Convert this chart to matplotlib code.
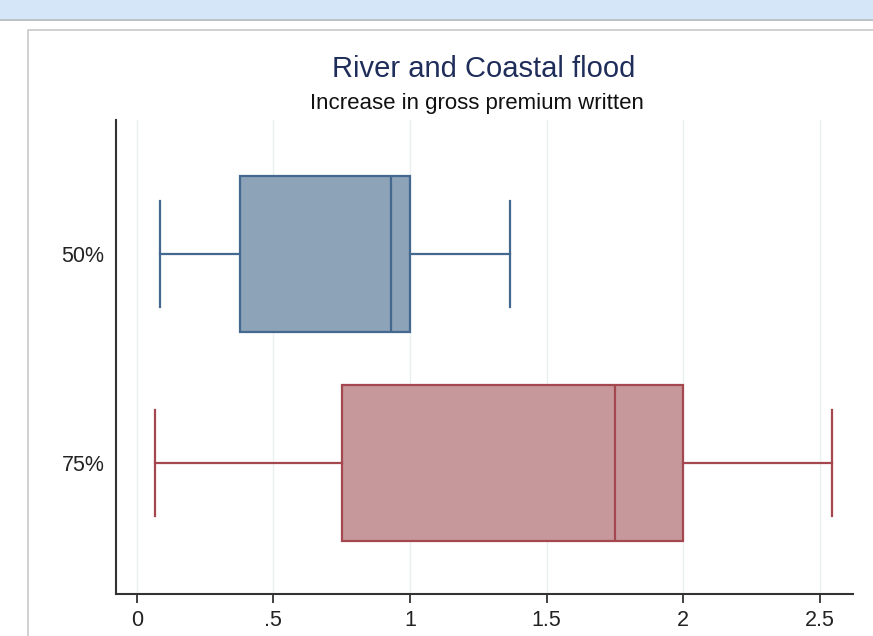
import matplotlib
matplotlib.use("Agg")
import matplotlib.pyplot as plt
from matplotlib.patches import Rectangle
from matplotlib.lines import Line2D

plt.rcParams['font.family'] = ['Liberation Sans', 'DejaVu Sans']

categories = ["50%", "75%"]
whislo = [0.085, 0.067]
q1 = [0.378, 0.75]
med = [0.93, 1.75]
q3 = [1.0, 2.0]
whishi = [1.366, 2.545]
xticks = [0, 0.5, 1, 1.5, 2, 2.5]
xticklabels = ["0", ".5", "1", "1.5", "2", "2.5"]

fills = ["#8CA3B8", "#C6989B"]
edges = ["#45698E", "#A4474F"]

W, H = 873, 636
fig = plt.figure(figsize=(W / 100, H / 100), dpi=100)
fig.patch.set_facecolor("white")

# top band and panel border
fig.patches.append(Rectangle((0, 1 - 19 / H), 1, 19 / H, transform=fig.transFigure,
                             facecolor="#D4E6F7", edgecolor="none", zorder=0))
fig.lines.append(Line2D([0, 1], [1 - 19.5 / H, 1 - 19.5 / H], transform=fig.transFigure,
                        color="#AEB6BE", lw=1.2))
fig.lines.append(Line2D([27.5 / W, 27.5 / W, 1.0], [0, 1 - 29.5 / H, 1 - 29.5 / H],
                        transform=fig.transFigure, color="#C8C8C8", lw=1.2))

ax = fig.add_axes([115.7 / W, 1 - 594 / H, (853.3 - 115.7) / W, (594 - 120) / H])
ax.set_facecolor("none")

stats = []
for i, c in enumerate(categories):
    stats.append(dict(label=c, whislo=whislo[i], q1=q1[i], med=med[i], q3=q3[i],
                      whishi=whishi[i], fliers=[]))

positions = list(range(len(categories)))
for i, s in enumerate(stats):
    ax.bxp([s], positions=[positions[i]], vert=False, widths=0.746, capwidths=0.507,
           patch_artist=True, showfliers=False,
           boxprops=dict(facecolor=fills[i], edgecolor=edges[i], linewidth=1.6),
           medianprops=dict(color=edges[i], linewidth=1.6),
           whiskerprops=dict(color=edges[i], linewidth=1.6),
           capprops=dict(color=edges[i], linewidth=1.6),
           manage_ticks=False, zorder=3)

ax.set_xlim(-0.077, 2.622)
ax.set_ylim(1.627, -0.641)
ax.set_xticks(xticks)
ax.set_xticklabels(xticklabels)
ax.set_yticks(positions)
ax.set_yticklabels(categories)
ax.tick_params(axis='x', direction='out', length=6.5, width=1.3, color="#333333",
               labelsize=15.5, labelcolor="#222222", pad=5)
ax.tick_params(axis='y', length=0, labelsize=15.5, labelcolor="#222222", pad=8)
for sp in ["top", "right"]:
    ax.spines[sp].set_visible(False)
for sp in ["left", "bottom"]:
    ax.spines[sp].set_color("#333333")
    ax.spines[sp].set_linewidth(1.5)
ax.grid(axis='x', color="#E8F0F2", linewidth=1.0, zorder=0)
ax.set_axisbelow(True)

fig.text(484 / W, 1 - 69 / H, "River and Coastal flood", ha="center", va="center",
         fontsize=21, color="#1F2D5A")
fig.text(477 / W, 1 - 103 / H, "Increase in gross premium written", ha="center", va="center",
         fontsize=16, color="#111111")

fig.savefig("out.png", dpi=100)
